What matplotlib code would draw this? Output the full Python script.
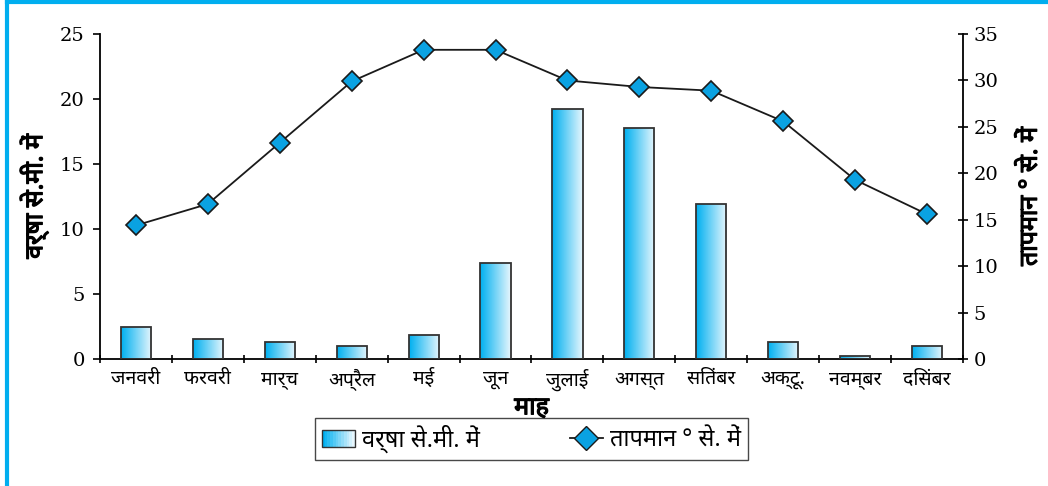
import matplotlib
matplotlib.use('Agg')
import matplotlib.pyplot as plt
import matplotlib.patheffects as pe
from matplotlib import font_manager
from matplotlib.ft2font import FT2Font
from matplotlib.colors import LinearSegmentedColormap
from matplotlib.lines import Line2D
from matplotlib.patches import Rectangle
from matplotlib.legend_handler import HandlerBase
import numpy as np

months = ['जनवरी', 'फरवरी', 'मार्च', 'अप्रैल', 'मई', 'जून',
          'जुलाई', 'अगस्त', 'सितंबर', 'अक्टू.', 'नवम्बर', 'दिसंबर']
rainfall = [2.5, 1.55, 1.3, 1.0, 1.85, 7.4, 19.2, 17.8, 11.9, 1.33, 0.28, 1.0]
temperature = [14.4, 16.7, 23.3, 29.9, 33.3, 33.3, 30.0, 29.3, 28.9, 25.6, 19.3, 15.6]
rain_ticks = [0, 5, 10, 15, 20, 25]
temp_ticks = [0, 5, 10, 15, 20, 25, 30, 35]

COL_BLUE = "#00AEEF"
COL_MARKER = "#0AA2E2"
GRAD = LinearSegmentedColormap.from_list('bar', ["#00B0F0", "#E6F6FD"])
BOLD = [pe.withStroke(linewidth=0.9, foreground='black')]


def find_devanagari_font():
    found = set()
    for f in font_manager.fontManager.ttflist:
        try:
            if ord('क') in FT2Font(f.fname).get_charmap():
                found.add(f.name)
        except Exception:
            pass
    for pref in ['Noto Sans Devanagari', 'Hind', 'Mukta', 'Poppins',
                 'FreeSans', 'Lohit Devanagari']:
        if pref in found:
            return pref
    return sorted(found)[0] if found else 'Noto Sans'


DEV = find_devanagari_font()
plt.rcParams['font.family'] = [DEV, 'DejaVu Sans']
SERIF = 'DejaVu Serif'


class GradientHandler(HandlerBase):
    def create_artists(self, legend, orig, x0, y0, w, h, fontsize, trans):
        arts = []
        n = 12
        for i in range(n):
            arts.append(Rectangle((x0 + w * i / n, y0), w / n + 0.3, h,
                                  facecolor=GRAD(i / (n - 1)), edgecolor='none',
                                  transform=trans))
        arts.append(Rectangle((x0, y0), w, h, facecolor='none',
                              edgecolor='#333333', lw=1.0, transform=trans))
        return arts


fig = plt.figure(figsize=(10.48, 4.86), dpi=100)
ax = fig.add_axes([0.0954, 0.261, 0.8235, 0.669])
x = np.arange(len(months))

bars = ax.bar(x, rainfall, width=0.42, facecolor='none', edgecolor='#333333',
              lw=1.3, zorder=3)
grad = np.linspace(0, 1, 64).reshape(1, -1)
for b in bars:
    x0, w, h = b.get_x(), b.get_width(), b.get_height()
    im = ax.imshow(grad, cmap=GRAD, aspect='auto', extent=[x0, x0 + w, 0, h],
                   zorder=2)
    im.set_clip_path(b)

ax.set_xlim(-0.5, len(months) - 0.5)
ax.set_ylim(0, 25)
ax.set_yticks(rain_ticks)
ax.set_yticklabels([str(t) for t in rain_ticks], fontfamily=SERIF, fontsize=14)
ax.set_xticks(x)
ax.set_xticklabels(months, fontsize=14)
ax.set_xticks(np.arange(-0.5, len(months)), minor=True)
ax.tick_params(axis='x', which='major', length=0, pad=7)
ax.tick_params(axis='x', which='minor', direction='inout', length=6, width=1.2)
ax.tick_params(axis='y', direction='out', length=5, width=1.2, pad=6)
for s in ['top', 'right']:
    ax.spines[s].set_visible(False)
for s in ['left', 'bottom']:
    ax.spines[s].set_linewidth(1.3)
ax.set_ylabel('वर्षा से.मी. में', fontsize=18, labelpad=8, path_effects=BOLD)
ax.set_xlabel('माह', fontsize=18, labelpad=3, path_effects=BOLD)

ax2 = ax.twinx()
ax2.plot(x, temperature, color='#1a1a1a', lw=1.3, marker='D', markersize=10,
         markerfacecolor=COL_MARKER, markeredgecolor='#1a1a1a',
         markeredgewidth=1.2, zorder=4)
ax2.set_ylim(0, 35)
ax2.set_yticks(temp_ticks)
ax2.set_yticklabels([str(t) for t in temp_ticks], fontfamily=SERIF, fontsize=14)
ax2.tick_params(axis='y', direction='inout', length=7, width=1.2, pad=4)
for s in ['top', 'left', 'bottom']:
    ax2.spines[s].set_visible(False)
ax2.spines['right'].set_linewidth(1.3)
ax2.set_ylabel('तापमान ° से. में', fontsize=18, rotation=90, labelpad=14,
               path_effects=BOLD)

handles = [Rectangle((0, 0), 1, 1),
           Line2D([], [], color='#1a1a1a', lw=1.3, marker='D', markersize=12,
                  markerfacecolor=COL_MARKER, markeredgecolor='#1a1a1a')]
fig.legend(handles, ['वर्षा से.मी. में', 'तापमान ° से. में'],
           handler_map={Rectangle: GradientHandler()},
           loc='center', bbox_to_anchor=(0.507, 0.097), ncol=2, fontsize=17,
           frameon=True, fancybox=False, edgecolor='#1a1a1a',
           handlelength=1.4, handletextpad=0.3, columnspacing=3.8,
           borderpad=0.3)

# blue frame on left and top
fig.add_artist(Line2D([0.0067, 0.0067], [0, 0.996], color=COL_BLUE, lw=3,
                      transform=fig.transFigure))
fig.add_artist(Line2D([0.0067, 1.0], [0.996, 0.996], color=COL_BLUE, lw=3,
                      transform=fig.transFigure))

fig.savefig('out.png', dpi=100)
